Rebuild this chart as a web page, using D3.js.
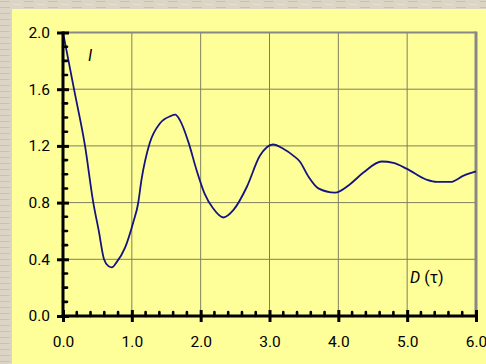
<!DOCTYPE html>
<html><head><meta charset="utf-8">
<script src="https://cdn.jsdelivr.net/npm/d3@7"></script>
<style>html,body{margin:0;padding:0;background:#dcd4c4;}svg{display:block;}</style>
</head><body><div id="chart"></div>
<script>
const dValues = [0, 0.16, 0.32, 0.44, 0.52, 0.596, 0.66, 0.71, 0.78, 0.90, 1.02, 1.09, 1.14, 1.26, 1.41, 1.56, 1.63, 1.70, 1.82, 1.94, 2.06, 2.18, 2.33, 2.48, 2.67, 2.86, 3.05, 3.20, 3.35, 3.44, 3.57, 3.71, 3.95, 4.17, 4.36, 4.63, 4.80, 4.99, 5.29, 5.43, 5.63, 5.82, 6.0];
const iValues = [2.0, 1.60, 1.20, 0.80, 0.60, 0.40, 0.352, 0.343, 0.38, 0.48, 0.66, 0.79, 0.96, 1.22, 1.36, 1.41, 1.42, 1.38, 1.23, 1.03, 0.86, 0.76, 0.695, 0.75, 0.91, 1.13, 1.21, 1.18, 1.13, 1.09, 0.98, 0.90, 0.87, 0.93, 1.01, 1.09, 1.08, 1.04, 0.96, 0.946, 0.946, 0.99, 1.02];
const xTicks = [0, 1, 2, 3, 4, 5, 6];
const yTicks = [0, 0.4, 0.8, 1.2, 1.6, 2.0];
const xMinor = d3.range(0, 6.0001, 0.2);
const yMinor = d3.range(0, 2.0001, 0.1);

const W = 486, H = 364;
const svg = d3.select("#chart").append("svg").attr("width", W).attr("height", H);

// paper-like background
const defs = svg.append("defs");
const pat = defs.append("pattern").attr("id","paper").attr("width",24).attr("height",6).attr("patternUnits","userSpaceOnUse");
pat.append("rect").attr("width",24).attr("height",6).attr("fill","#dcd4c4");
pat.append("rect").attr("x",0).attr("y",1).attr("width",10).attr("height",1).attr("fill","#c9c1b1");
pat.append("rect").attr("x",13).attr("y",4).attr("width",8).attr("height",1).attr("fill","#e8e1d3");
svg.append("rect").attr("width",W).attr("height",H).attr("fill","url(#paper)");
svg.append("rect").attr("x",12).attr("y",9).attr("width",W-12).attr("height",H-9).attr("fill","#ffff99");

const x = d3.scaleLinear().domain([0, 6]).range([63, 476]);
const y = d3.scaleLinear().domain([0, 2]).range([316, 32.5]);

// gridlines
svg.append("g").selectAll("line").data(xTicks.slice(1, -1)).join("line")
  .attr("x1", d => x(d)).attr("x2", d => x(d)).attr("y1", y(2)).attr("y2", y(0))
  .attr("stroke", "#7f7f60").attr("stroke-width", 1);
svg.append("g").selectAll("line").data(yTicks.slice(1, -1)).join("line")
  .attr("x1", x(0)).attr("x2", x(6)).attr("y1", d => y(d)).attr("y2", d => y(d))
  .attr("stroke", "#7f7f60").attr("stroke-width", 1);

// top & right border
svg.append("line").attr("x1", x(0)).attr("x2", x(6)).attr("y1", y(2)).attr("y2", y(2))
  .attr("stroke", "#888888").attr("stroke-width", 2);
svg.append("line").attr("x1", x(6)).attr("x2", x(6)).attr("y1", y(2)-1).attr("y2", y(0))
  .attr("stroke", "#888888").attr("stroke-width", 3);

// curve
const line = d3.line().x((d, i) => x(dValues[i])).y((d, i) => y(iValues[i])).curve(d3.curveMonotoneX);
svg.append("path").datum(dValues).attr("d", line)
  .attr("fill", "none").attr("stroke", "#141480").attr("stroke-width", 1.8);

// axes
const yAxis = d3.axisLeft(y).tickValues(yTicks).tickFormat(d3.format(".1f")).tickSize(6).tickPadding(7);
const gy = svg.append("g").attr("transform", `translate(${x(0)},0)`).call(yAxis);
gy.select(".domain").remove();
gy.selectAll(".tick line").attr("x1", -6).attr("x2", 6).attr("stroke", "#000").attr("stroke-width", 3);
gy.selectAll(".tick text").attr("font-family", "Roboto, sans-serif").attr("font-size", 15.5).attr("fill", "#000");

const xAxis = d3.axisBottom(x).tickValues(xTicks).tickFormat(d3.format(".1f")).tickSize(6).tickPadding(14);
const gx = svg.append("g").attr("transform", `translate(0,${y(0)})`).call(xAxis);
gx.select(".domain").remove();
gx.selectAll(".tick line").attr("y1", -6).attr("y2", 6).attr("stroke", "#000").attr("stroke-width", 3);
gx.selectAll(".tick text").attr("font-family", "Roboto, sans-serif").attr("font-size", 15.5).attr("fill", "#000");

// minor ticks
svg.append("g").selectAll("line").data(xMinor.filter(d => Math.abs(d - Math.round(d)) > 1e-6)).join("line")
  .attr("x1", d => x(d)).attr("x2", d => x(d)).attr("y1", y(0)).attr("y2", y(0) - 4)
  .attr("stroke", "#000").attr("stroke-width", 2.6).attr("stroke-linecap", "round");
svg.append("g").selectAll("line").data(yMinor.filter(d => Math.abs(d / 0.4 - Math.round(d / 0.4)) > 1e-6)).join("line")
  .attr("x1", x(0)).attr("x2", x(0) + 4).attr("y1", d => y(d)).attr("y2", d => y(d))
  .attr("stroke", "#000").attr("stroke-width", 2.6).attr("stroke-linecap", "round");

// axis lines
svg.append("line").attr("x1", x(0)).attr("x2", x(0)).attr("y1", y(2)-1).attr("y2", y(0)+1.5)
  .attr("stroke", "#000").attr("stroke-width", 3);
svg.append("line").attr("x1", x(0)-1.5).attr("x2", x(6)+1).attr("y1", y(0)).attr("y2", y(0))
  .attr("stroke", "#000").attr("stroke-width", 3);

// axis titles
svg.append("text").attr("x", 88).attr("y", 61).attr("font-family", "Roboto, sans-serif")
  .attr("font-size", 16).attr("font-style", "italic").text("I");
const t = svg.append("text").attr("x", 410).attr("y", 283).attr("font-family", "Roboto, sans-serif").attr("font-size", 16);
t.append("tspan").attr("font-style", "italic").text("D");
t.append("tspan").text(" (τ)");
</script></body></html>
